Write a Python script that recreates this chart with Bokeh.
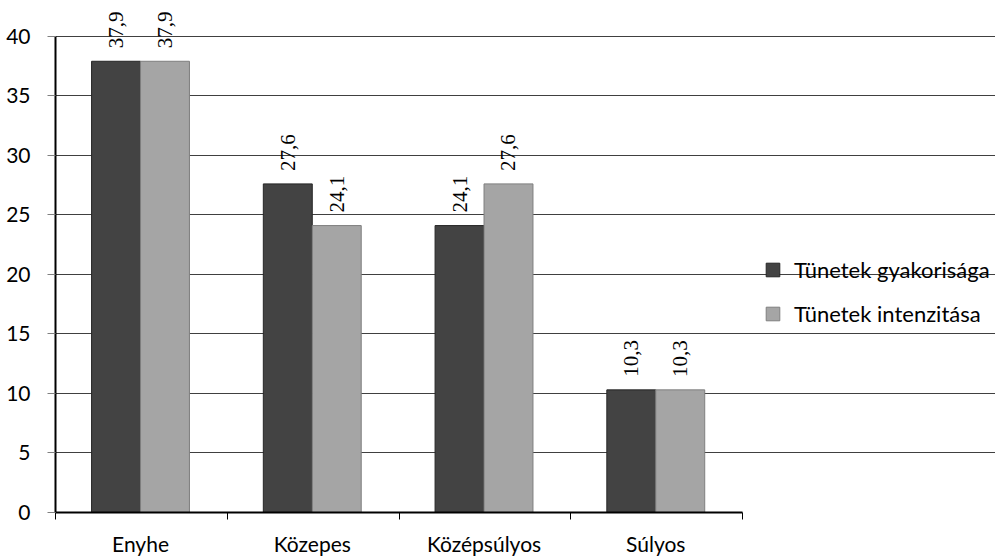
import math
from bokeh.plotting import figure
from bokeh.models import Range1d, FixedTicker, ColumnDataSource, LabelSet, Legend, LegendItem
from bokeh.embed import file_html
from bokeh.resources import INLINE

categories = ["Enyhe", "Közepes", "Középsúlyos", "Súlyos"]
series_names = ["Tünetek gyakorisága", "Tünetek intenzitása"]
gyakorisag = [37.9, 27.6, 24.1, 10.3]
intenzitas = [37.9, 24.1, 27.6, 10.3]
y_ticks = [0, 5, 10, 15, 20, 25, 30, 35, 40]

FONT = "Lato"
BAR_W = 0.285
n = len(categories)
centers = [i + 0.495 for i in range(n)]

def fmt(v):
    return f"{v:.1f}".replace(".", ",")

src1 = ColumnDataSource(dict(x=[c - BAR_W / 2 for c in centers], top=gyakorisag,
                             lab=[fmt(v) for v in gyakorisag]))
src2 = ColumnDataSource(dict(x=[c + BAR_W / 2 for c in centers], top=intenzitas,
                             lab=[fmt(v) for v in intenzitas]))

# frame extends to the right edge so the legend (drawn inside it) is not clipped;
# axis and grid are bounded to the category area
p = figure(width=995, height=558, output_backend="svg", toolbar_location=None,
           x_range=Range1d(0, 5.473), y_range=Range1d(0, 42.5),
           min_border_left=55, min_border_right=0, min_border_top=6, min_border_bottom=43)
p.outline_line_color = None
p.background_fill_color = "white"
p.border_fill_color = "white"

r1 = p.vbar(x="x", top="top", width=BAR_W, bottom=0, source=src1,
            fill_color="#434343", line_color="#262626", line_width=1)
r2 = p.vbar(x="x", top="top", width=BAR_W, bottom=0, source=src2,
            fill_color="#a5a5a5", line_color="#7f7f7f", line_width=1)

for s in (src1, src2):
    p.add_layout(LabelSet(x="x", y="top", text="lab", source=s, angle=math.pi / 2,
                          text_align="left", text_baseline="middle", y_offset=13,
                          text_font=FONT, text_font_size="21px", text_color="black"))

# axes
p.xgrid.grid_line_color = None
p.ygrid.grid_line_color = "#404040"
p.ygrid.grid_line_width = 1
p.ygrid.bounds = (0, n)
p.yaxis.ticker = FixedTicker(ticks=y_ticks)
p.ygrid.ticker = FixedTicker(ticks=y_ticks)
p.yaxis.bounds = (y_ticks[0], y_ticks[-1])
p.yaxis.axis_line_color = "black"
p.yaxis.axis_line_width = 2
p.yaxis.major_tick_line_color = "#808080"
p.yaxis.major_tick_out = 8
p.yaxis.major_tick_in = 0
p.yaxis.minor_tick_line_color = None
p.yaxis.major_label_standoff = 17
p.yaxis.major_label_text_font = FONT
p.yaxis.major_label_text_font_size = "21px"
p.yaxis.major_label_text_color = "black"

p.xaxis.ticker = FixedTicker(ticks=centers, minor_ticks=list(range(n + 1)))
p.xaxis.bounds = (0, n)
p.xaxis.major_label_overrides = {c: name for c, name in zip(centers, categories)}
p.xaxis.major_tick_line_color = None
p.xaxis.minor_tick_line_color = "black"
p.xaxis.minor_tick_out = 7
p.xaxis.minor_tick_in = 0
p.xaxis.axis_line_color = "black"
p.xaxis.axis_line_width = 2
p.xaxis.major_label_standoff = 11
p.xaxis.major_label_text_font = FONT
p.xaxis.major_label_text_font_size = "21px"
p.xaxis.major_label_text_color = "black"

legend = Legend(items=[LegendItem(label=series_names[0], renderers=[r1]),
                       LegendItem(label=series_names[1], renderers=[r2])],
                location=(709, 185), orientation="vertical",
                glyph_width=17, glyph_height=17, label_standoff=13, spacing=17,
                padding=0, margin=0, border_line_color=None, background_fill_alpha=0,
                label_text_font=FONT, label_text_font_size="22px", label_text_color="black",
                label_height=21)
p.add_layout(legend)

open("out.html", "w").write(file_html(p, INLINE))
